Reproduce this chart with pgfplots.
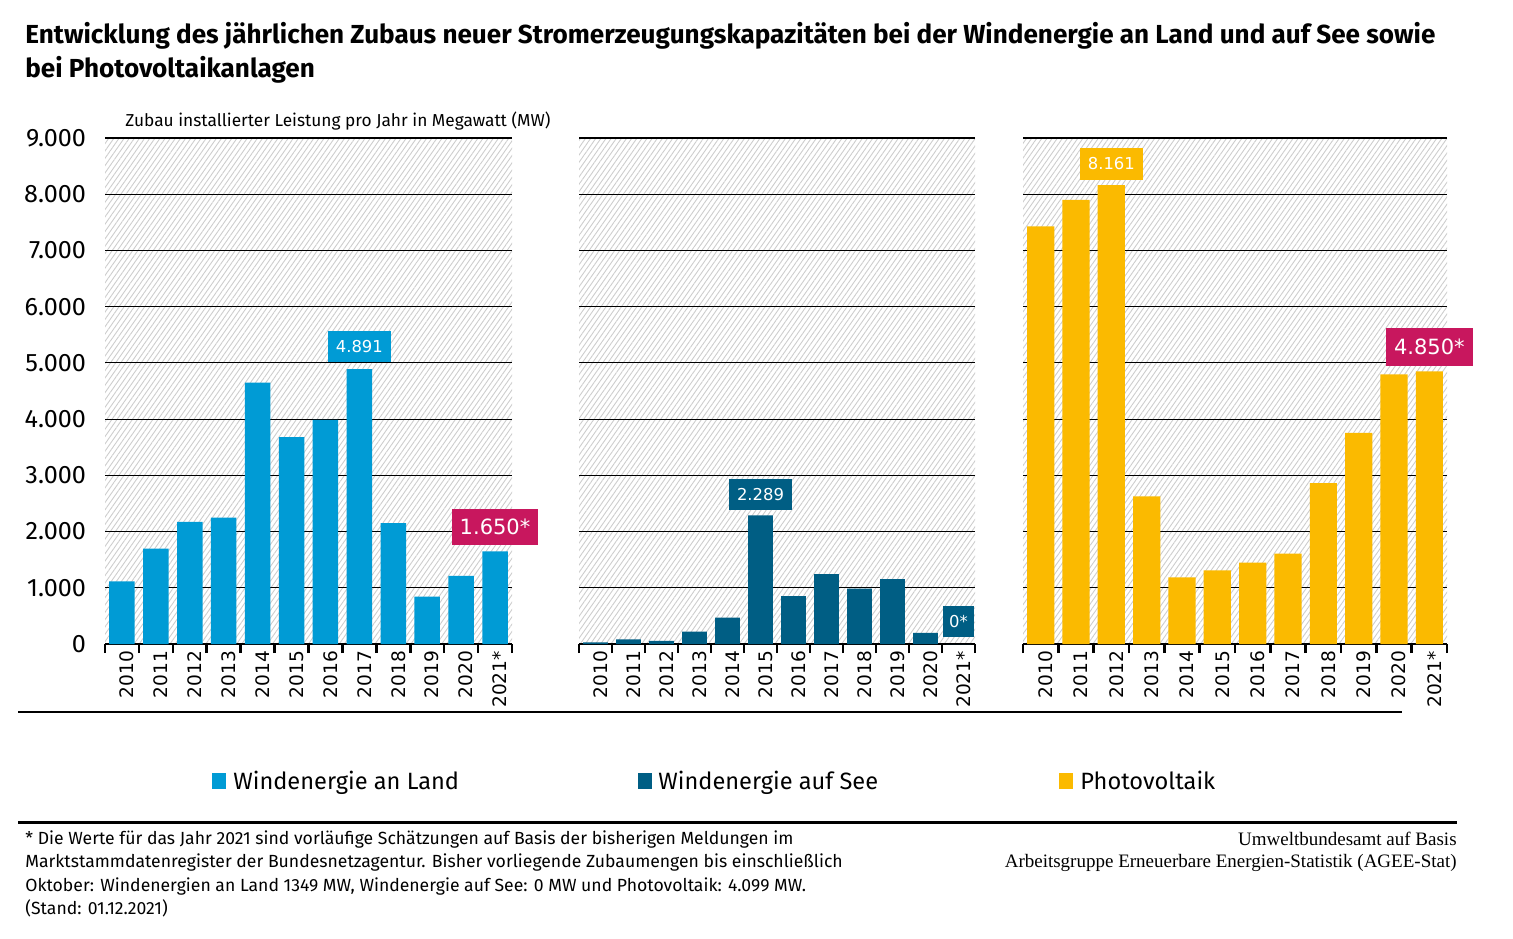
\documentclass[border=0pt]{standalone}
\usepackage{fontspec}
\setmainfont{Fira Sans}
\newfontfamily\dejavu{DejaVu Sans}
\newfontfamily\srcfont{Liberation Serif}
\usepackage{pgfplots}
\pgfplotsset{compat=1.18}
\usetikzlibrary{patterns.meta}
\definecolor{land}{RGB}{0,155,213}
\definecolor{see}{RGB}{0,94,132}
\definecolor{pv}{RGB}{251,186,0}
\definecolor{pink}{RGB}{200,23,94}
\definecolor{hatch}{RGB}{205,205,205}
\tikzset{
  vlab/.style={text=white, anchor=south, inner xsep=4pt, inner ysep=0pt, minimum height=15.5pt, font=\dejavu\fontsize{8.2}{9}\selectfont},
  plab/.style={fill=pink, text=white, anchor=south, inner xsep=4pt, inner ysep=0pt, minimum height=18pt, font=\dejavu\fontsize{10.5}{11}\selectfont},
}
\pgfplotsset{
  panel/.style={
    scale only axis, height=253pt,
    ymin=0, ymax=9000, xmin=-0.5, xmax=11.5,
    ytick={0,1000,...,9000}, ymajorgrids,
    grid style={black,line width=0.55pt},
    axis x line*=bottom, axis y line*=left,
    y axis line style={draw=none},
    x axis line style={-,line width=1.3pt},
    xtick={0,...,11},
    xticklabels={2010,2011,2012,2013,2014,2015,2016,2017,2018,2019,2020,2021*},
    major tick length=0pt,
    x tick label style={rotate=90,anchor=east,font=\dejavu\fontsize{9.3}{10}\selectfont,yshift=-2.5pt},
    extra x ticks={-0.5,0.5,...,11.5},
    extra x tick labels={},
    extra x tick style={grid=none, major tick length=4.5pt, tick align=outside, tick style={line width=1.3pt,black}},
    ybar, bar shift=0pt,
    axis background/.style={pattern={Lines[angle=55,distance=2.1pt,line width=0.45pt]}, pattern color=hatch},
    yticklabels={},
    clip=false,
    /pgf/number format/1000 sep={.},
    /pgf/number format/assume math mode=true,
    scaled y ticks=false,
  },
}
\begin{document}
\begin{tikzpicture}
\useasboundingbox (0,0) rectangle (756.5pt,-469pt);
% title
\node[anchor=base west, inner sep=0pt, font=\bfseries\fontsize{13.05}{14}\selectfont] at (12.5pt,-21.5pt) {Entwicklung des jährlichen Zubaus neuer Stromerzeugungskapazitäten bei der Windenergie an Land und auf See sowie};
\node[anchor=base west, inner sep=0pt, font=\bfseries\fontsize{13.05}{14}\selectfont] at (12.5pt,-38.5pt) {bei Photovoltaikanlagen};
\node[anchor=base west, inner sep=0pt, font=\fontsize{8.65}{10}\selectfont] at (62.5pt,-63pt) {Zubau installierter Leistung pro Jahr in Megawatt (MW)};

% Panel 1
\begin{axis}[panel, width=203.5pt, at={(52.5pt,-322pt)}, anchor=south west, bar width=0.75,
  yticklabels={0,1.000,2.000,3.000,4.000,5.000,6.000,7.000,8.000,9.000},
  y tick label style={font=\fontsize{12.6}{13}\selectfont, xshift=-6pt}]
\addplot[fill=land, draw=none] coordinates {(0,1113) (1,1696) (2,2173) (3,2250) (4,4649) (5,3679) (6,3988) (7,4891) (8,2149) (9,845) (10,1214) (11,1650)};
\node[vlab, fill=land, yshift=3.5pt] at (axis cs:7,4891) {4.891};
\node[plab, yshift=3pt] at (axis cs:11,1650) {1.650*};
\end{axis}

% Panel 2
\begin{axis}[panel, width=198pt, at={(289.5pt,-322pt)}, anchor=south west, bar width=0.75]
\addplot[fill=see, draw=none] coordinates {(0,30) (1,84) (2,54) (3,222) (4,468) (5,2289) (6,853) (7,1243) (8,985) (9,1153) (10,198) (11,0)};
\node[vlab, fill=see, yshift=2.5pt] at (axis cs:5,2289) {2.289};
\node[vlab, fill=see, yshift=3.5pt, inner xsep=3pt] at (axis cs:11,0) {0*};
\end{axis}

% Panel 3
\begin{axis}[panel, width=212pt, at={(511.5pt,-322pt)}, anchor=south west, bar width=0.77]
\addplot[fill=pv, draw=none] coordinates {(0,7429) (1,7900) (2,8161) (3,2624) (4,1184) (5,1312) (6,1447) (7,1608) (8,2860) (9,3755) (10,4798) (11,4850)};
\node[vlab, fill=pv, yshift=2.5pt, minimum height=16pt] at (axis cs:2,8161) {8.161};
\node[plab, yshift=2.5pt, minimum height=19pt] at (axis cs:11,4850) {4.850*};
\end{axis}

% separator lines
\draw[line width=0.7pt] (9pt,-356pt) -- (701pt,-356pt);
\draw[line width=1.5pt] (9pt,-411pt) -- (728.5pt,-411pt);

% legend
\fill[land] (106pt,-386.5pt) rectangle (113pt,-394.5pt);
\node[anchor=base west, inner sep=0pt, font=\fontsize{11.8}{13}\selectfont] at (116.5pt,-394.5pt) {Windenergie an Land};
\fill[see] (319pt,-386.5pt) rectangle (326pt,-394.5pt);
\node[anchor=base west, inner sep=0pt, font=\fontsize{11.8}{13}\selectfont] at (329pt,-394.5pt) {Windenergie auf See};
\fill[pv] (529.5pt,-386.5pt) rectangle (536.5pt,-394.5pt);
\node[anchor=base west, inner sep=0pt, font=\fontsize{11.8}{13}\selectfont] at (540pt,-394.5pt) {Photovoltaik};

% footnote
\begin{scope}[every node/.style={anchor=base west, inner sep=0pt, font=\fontsize{8.8}{10}\selectfont}]
\node at (12.5pt,-422pt) {* Die Werte für das Jahr 2021 sind vorläufige Schätzungen auf Basis der bisherigen Meldungen im};
\node at (12.5pt,-433.75pt) {Marktstammdatenregister der Bundesnetzagentur. Bisher vorliegende Zubaumengen bis einschließlich};
\node at (12.5pt,-445.5pt) {Oktober: Windenergien an Land 1349 MW, Windenergie auf See: 0 MW und Photovoltaik: 4.099 MW.};
\node at (12.5pt,-457.25pt) {(Stand: 01.12.2021)};
\end{scope}
\begin{scope}[every node/.style={anchor=base east, inner sep=0pt, font=\srcfont\fontsize{9.5}{10}\selectfont}]
\node at (728.5pt,-422.5pt) {Umweltbundesamt auf Basis};
\node at (728.5pt,-433.75pt) {Arbeitsgruppe Erneuerbare Energien-Statistik (AGEE-Stat)};
\end{scope}
\end{tikzpicture}
\end{document}
